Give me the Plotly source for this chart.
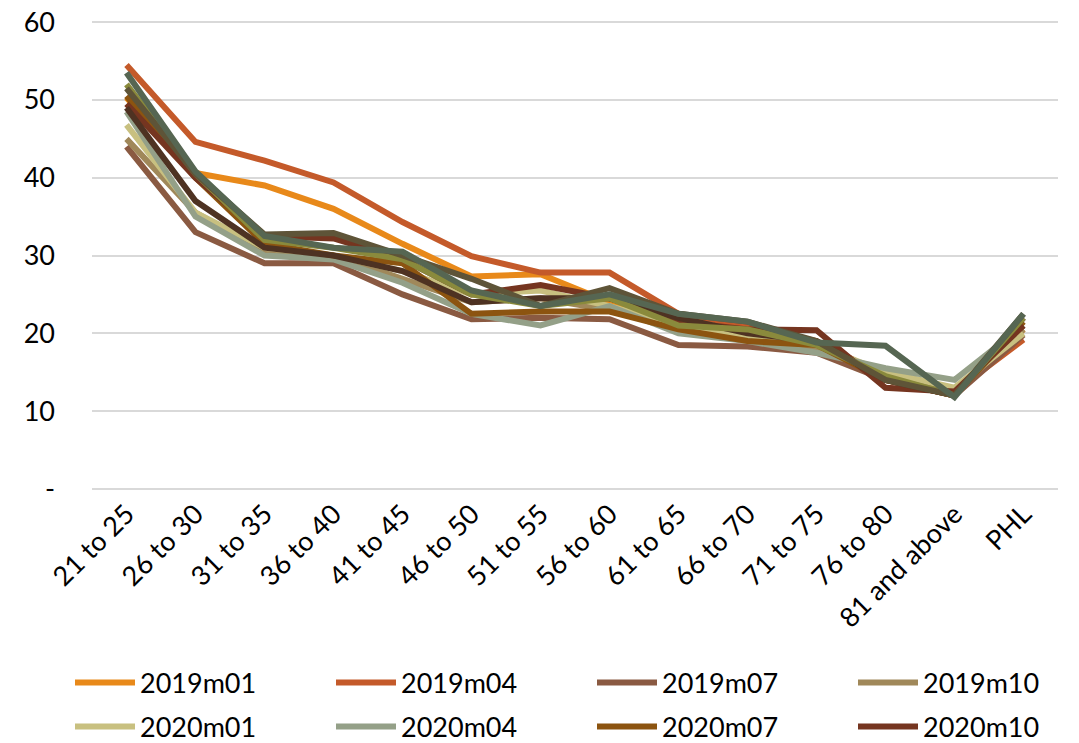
import plotly.graph_objects as go

# Age-band categories on the horizontal axis
categories = ["21 to 25", "26 to 30", "31 to 35", "36 to 40", "41 to 45", "46 to 50",
              "51 to 55", "56 to 60", "61 to 65", "66 to 70", "71 to 75", "76 to 80",
              "81 and above", "PHL"]

# Series values by survey round
s2019m01 = [50.3, 40.6, 39.0, 36.0, 31.5, 27.3, 27.6, 24.0, 21.0, 19.0, 18.5, 14.0, 12.0, 20.5]
s2019m04 = [54.5, 44.6, 42.2, 39.4, 34.3, 29.9, 27.8, 27.8, 22.5, 21.0, 19.0, 14.5, 12.5, 19.2]
s2019m07 = [44.0, 33.0, 29.0, 29.0, 25.0, 21.8, 22.0, 21.8, 18.5, 18.3, 17.5, 14.0, 12.0, 19.8]
s2019m10 = [45.0, 35.5, 30.5, 30.0, 27.0, 24.0, 24.5, 23.0, 21.0, 19.5, 18.0, 15.0, 12.5, 20.5]
s2020m01 = [46.8, 35.5, 31.0, 30.0, 28.0, 25.0, 25.5, 23.5, 21.0, 19.5, 18.5, 15.0, 13.0, 20.0]
s2020m04 = [48.5, 35.0, 30.0, 29.5, 26.5, 22.5, 21.0, 23.5, 20.0, 19.0, 17.5, 15.5, 14.0, 21.0]
s2020m07 = [50.5, 40.0, 31.5, 30.0, 29.0, 22.5, 22.8, 22.8, 20.5, 19.0, 18.5, 14.0, 12.0, 21.5]
s2020m10 = [49.5, 40.0, 32.5, 32.2, 29.5, 25.0, 26.2, 24.5, 21.5, 20.5, 20.4, 13.0, 12.5, 21.0]
s2021m01 = [49.0, 37.0, 31.0, 30.0, 28.0, 24.0, 24.5, 24.5, 22.0, 20.0, 19.0, 14.0, 12.0, 22.0]
s2021m04 = [52.0, 40.5, 32.0, 31.0, 29.5, 25.0, 23.5, 24.5, 21.0, 20.5, 18.5, 14.5, 12.0, 22.0]
s2021m07 = [51.5, 40.5, 32.7, 32.9, 30.0, 27.0, 23.5, 25.8, 22.5, 21.5, 19.0, 14.0, 12.0, 22.5]
s2021m10 = [53.5, 40.8, 32.5, 31.0, 30.5, 25.5, 23.5, 25.0, 22.5, 21.5, 18.8, 18.4, 11.8, 22.5]

y_ticks = [0, 10, 20, 30, 40, 50, 60]
y_tick_text = ["-", "10", "20", "30", "40", "50", "60"]

series = [
    ("2019m01", s2019m01, "#E8891A", True),
    ("2019m04", s2019m04, "#C45A2A", True),
    ("2019m07", s2019m07, "#8A5A42", True),
    ("2019m10", s2019m10, "#A0885A", True),
    ("2020m01", s2020m01, "#C8C080", True),
    ("2020m04", s2020m04, "#94A088", True),
    ("2020m07", s2020m07, "#8C5410", True),
    ("2020m10", s2020m10, "#753520", True),
    ("2021m01", s2021m01, "#4E3222", False),
    ("2021m04", s2021m04, "#8A8A3C", False),
    ("2021m07", s2021m07, "#5E5438", False),
    ("2021m10", s2021m10, "#566652", False),
]

FONT = "Lato, Calibri, Carlito, sans-serif"
FS = 27

fig = go.Figure()
legend_layout = {}
slot = 0
for name, vals, color, in_legend in series:
    if in_legend:
        key = "legend" if slot == 0 else f"legend{slot + 1}"
        row, col = divmod(slot, 4)
        legend_layout[key] = dict(
            xref="container", yref="container",
            x=(70 + 261 * col) / 1079, y=1 - (683 + 44 * row) / 743,
            xanchor="left", yanchor="middle",
            font=dict(family=FONT, size=FS, color="#000000"),
            itemwidth=60, bgcolor="rgba(0,0,0,0)",
        )
        slot += 1
    else:
        key = "legend"
    fig.add_trace(go.Scatter(
        x=categories, y=vals, name=name, mode="lines",
        line=dict(color=color, width=6),
        showlegend=in_legend, legend=key,
    ))

fig.update_layout(
    width=1079, height=743,
    margin=dict(l=92, r=21, t=21, b=253, autoexpand=False),
    paper_bgcolor="white", plot_bgcolor="white",
    font=dict(family=FONT, size=FS, color="#000000"),
    xaxis=dict(
        type="category", range=[-0.5, 13.5], tickangle=-45,
        showgrid=False, showline=False, zeroline=False,
        tickfont=dict(family=FONT, size=FS, color="#000000"),
        ticks="", ticklabelstandoff=2,
    ),
    yaxis=dict(
        range=[-0.15, 60.15], tickvals=y_ticks, ticktext=y_tick_text,
        showgrid=True, gridcolor="#D9D9D9", gridwidth=1.5,
        zeroline=False, showline=False, ticks="",
        ticklabelstandoff=36,
        tickfont=dict(family=FONT, size=FS, color="#000000"),
    ),
    **legend_layout,
)

fig.write_html("out.html")
